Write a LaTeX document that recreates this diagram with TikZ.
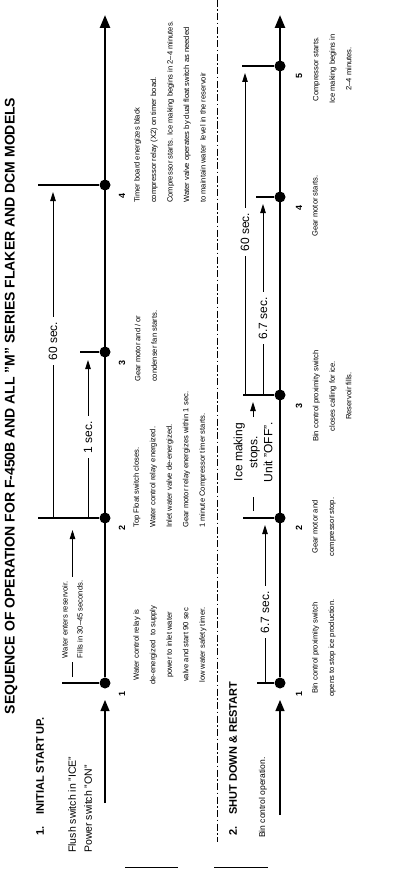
\documentclass[tikz,border=0pt]{standalone}
\usepackage{fontspec}
\setmainfont{Liberation Sans}
\usetikzlibrary{arrows.meta}

\begin{document}
\begin{tikzpicture}[x=1pt, y=-1pt,
  body/.style={rotate=90, inner sep=0pt, font=\fontsize{7.6}{16.5}\selectfont},
  dimlabel/.style={rotate=90, inner sep=0pt, outer sep=5pt, align=center,
                   font=\fontsize{12}{15}\selectfont},
  heading/.style={rotate=90, inner sep=0pt, anchor=west,
                  font=\fontsize{11}{13}\selectfont\bfseries},
  num/.style={rotate=90, inner sep=0pt, font=\fontsize{9}{10}\selectfont\bfseries},
  event/.style={circle, fill, inner sep=0pt, minimum size=11pt},
  timeline/.style={line width=2.4pt, -{Triangle[length=13pt, width=10pt]}},
  tickline/.style={line width=1.8pt},
  dim/.style={line width=0.9pt},
  dimarrow/.style={line width=0.9pt, -{Triangle[length=9pt, width=5.5pt]}},
  feed/.style={line width=1.2pt, -{Triangle[length=11pt, width=9pt]}}
]
  \useasboundingbox (0,0) rectangle (401,888);

  % Title
  \node[rotate=90, inner sep=0pt, font=\fontsize{14}{16}\selectfont\bfseries] (title) at (11,406)
    {SEQUENCE OF OPERATION FOR F-450B AND ALL "M" SERIES FLAKER AND DCM MODELS};

  % 1. Initial start up
  \node[heading] (head1) at (40,836) {1.\hspace{12pt}INITIAL START UP.};
  \node[body, anchor=west, align=left, font=\fontsize{10.5}{16}\selectfont] (switch1) at (80,853)
    {Flush switch in "ICE"\\Power switch "ON"};
  \coordinate (feed1) at (105,803);
  \coordinate (feed1end) at (105,700);
  \coordinate (top1) at (105,15);
  \node[event] (a1) at (105,683) {};
  \node[event] (a2) at (105,518) {};
  \node[event] (a3) at (105,352) {};
  \node[event] (a4) at (105,185) {};
  \draw[feed] (feed1) -- (feed1end);
  \draw[timeline] (a1) -- (top1);
  \coordinate (t1) at (62,683);
  \coordinate (t2) at (38,518);
  \coordinate (t3) at (80,352);
  \coordinate (t4) at (38,185);
  \draw[tickline] (t1) -- (a1);
  \draw[tickline] (t2) -- (a2);
  \draw[tickline] (t3) -- (a3);
  \draw[tickline] (t4) -- (a4);
  \node[num] (n1) at (122,694) {1};
  \node[num] (n2) at (122,528) {2};
  \node[num] (n3) at (122,363) {3};
  \node[num] (n4) at (122,196) {4};

  % Zeiten Abschnitt 1
  \coordinate (w0) at (72.5,677);
  \coordinate (w1) at (72.5,530);
  \node[body, anchor=west, align=left, outer sep=4pt, font=\fontsize{7.6}{15}\selectfont] (fill1)
    at (72.5,662) {Water enters reservoir.\\Fills in 30--45 seconds.};
  \draw[dim] (w0) -- (fill1.west);
  \draw[dimarrow] (fill1.east) -- (w1);
  \coordinate (s1a) at (88,518);
  \coordinate (s1b) at (88,360);
  \node[dimlabel] (lab1) at (88,437) {1 sec.};
  \draw[dim] (s1a) -- (lab1.west);
  \draw[dimarrow] (lab1.east) -- (s1b);
  \coordinate (s60a) at (53,518);
  \coordinate (s60b) at (53,192);
  \node[dimlabel] (lab60) at (53,341) {60 sec.};
  \draw[dim] (s60a) -- (lab60.west);
  \draw[dimarrow] (lab60.east) -- (s60b);

  % Texte Abschnitt 1
  \node[body, align=center] (txt1) at (170,645)
    {Water control relay is\\de-energized\ \ to supply\\power to inlet water\\valve and start 90 sec\\low water safety timer.};
  \node[body, anchor=west, align=left] (txt2) at (170,528)
    {Top Float switch closes.\\Water control relay energized.\\Inlet water valve de-energized.\\Gear motor relay energizes within 1 sec.\\1 minute Compressor timer starts.};
  \node[body, anchor=west, align=left] (txt3) at (146,382)
    {Gear motor and / or\\condenser fan starts.};
  \node[body, anchor=west, align=left] (txt4) at (170,203)
    {Timer board energizes black\\compressor relay (X2) on timer boad.\\Compressor starts. Ice making begins in 2--4 minutes.\\Water valve operates by dual float switch as needed\\to maintain water\ \ level in the reservoir};

  % Trennlinie
  \coordinate (sepTop) at (217,0);
  \coordinate (sepEnd) at (217,842);
  \draw[dash pattern=on 7pt off 2.5pt on 1.5pt off 2.5pt, line width=0.8pt] (sepTop) -- (sepEnd);

  % 2. Shut down & restart
  \node[heading] (head2) at (233,836) {2.\hspace{12pt}SHUT DOWN \& RESTART};
  \node[body, anchor=west, font=\fontsize{8.5}{10}\selectfont] (switch2) at (263,838) {Bin control operation.};
  \coordinate (feed2) at (280,815);
  \coordinate (feed2end) at (280,700);
  \coordinate (top2) at (280,15);
  \node[event] (b1) at (280,683) {};
  \node[event] (b2) at (280,518) {};
  \node[event] (b3) at (280,395) {};
  \node[event] (b4) at (280,197) {};
  \node[event] (b5) at (280,66) {};
  \draw[feed] (feed2) -- (feed2end);
  \draw[timeline] (b1) -- (top2);
  \coordinate (u1) at (257,683);
  \coordinate (u2) at (243,518);
  \coordinate (u3) at (243,395);
  \coordinate (u4) at (256,197);
  \coordinate (u5) at (242,66);
  \draw[tickline] (u1) -- (b1);
  \draw[tickline] (u2) -- (b2);
  \draw[tickline] (u3) -- (b3);
  \draw[tickline] (u4) -- (b4);
  \draw[tickline] (u5) -- (b5);
  \node[num] (m1) at (299,694) {1};
  \node[num] (m2) at (299,528) {2};
  \node[num] (m3) at (299,406) {3};
  \node[num] (m4) at (299,208) {4};
  \node[num] (m5) at (299,76) {5};

  % Zeiten Abschnitt 2
  \coordinate (r1a) at (265,683);
  \coordinate (r1b) at (265,525);
  \node[dimlabel] (lab67a) at (265,612) {6.7 sec.};
  \draw[dim] (r1a) -- (lab67a.west);
  \draw[dimarrow] (lab67a.east) -- (r1b);
  \coordinate (i0) at (253,511);
  \coordinate (i1) at (253,497);
  \coordinate (i2) at (253,402);
  \node[dimlabel] (labice) at (253,452) {Ice making\\stops.\\Unit "OFF".};
  \draw[dim] (i0) -- (i1);
  \draw[dimarrow] (labice.east) -- (i2);
  \coordinate (r3a) at (263,395);
  \coordinate (r3b) at (263,204);
  \node[dimlabel] (lab67b) at (263,318) {6.7 sec.};
  \draw[dim] (r3a) -- (lab67b.west);
  \draw[dimarrow] (lab67b.east) -- (r3b);
  \coordinate (r60a) at (245,395);
  \coordinate (r60b) at (245,73);
  \node[dimlabel] (lab60b) at (245,232) {60 sec.};
  \draw[dim] (r60a) -- (lab60b.west);
  \draw[dimarrow] (lab60b.east) -- (r60b);

  % Texte Abschnitt 2
  \node[body, align=center] (txt21) at (324,648)
    {Bin control proximity switch\\opens to stop ice production.};
  \node[body, align=center] (txt22) at (324,527)
    {Gear motor and\\compressor stop.};
  \node[body, align=center] (txt23) at (332.2,396)
    {Bin control proximity switch\\closes calling for ice.\\Reservoir fills.};
  \node[body, align=center] (txt24) at (315,206)
    {Gear motor starts.};
  \node[body, align=center] (txt25) at (332.2,69)
    {Compressor starts.\\Ice making begins in\\2--4 minutes.};

  % Striche unten
  \coordinate (foot1a) at (125,867);
  \coordinate (foot1b) at (178,867);
  \coordinate (foot2a) at (214,867);
  \coordinate (foot2b) at (268,867);
  \draw[line width=1pt] (foot1a) -- (foot1b);
  \draw[line width=1pt] (foot2a) -- (foot2b);
\end{tikzpicture}
\end{document}
